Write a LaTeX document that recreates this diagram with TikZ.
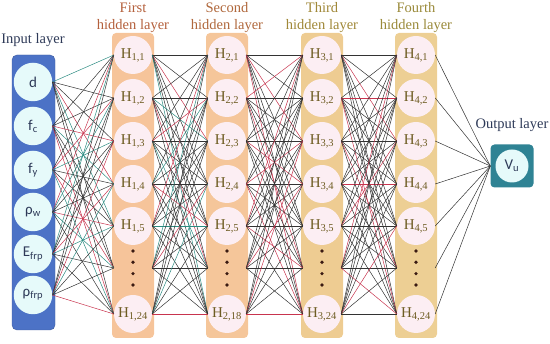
\documentclass[tikz,border=0pt]{standalone}
\usepackage{fontspec}
\setmainfont{Liberation Serif}
\newfontfamily\unitfont{Carlito}
\usepackage{tikz}
\usetikzlibrary{positioning, calc}
\usepackage{xcolor}

\definecolor{inblue}{HTML}{4C72C6}
\definecolor{incirc}{HTML}{E6FAFA}
\definecolor{intext}{HTML}{2E3A58}
\definecolor{outteal}{HTML}{2F8394}
\definecolor{hcirc}{HTML}{FCEEF3}
\definecolor{htext}{HTML}{6E5C22}
\definecolor{box1}{HTML}{F6C49A}
\definecolor{box2}{HTML}{F5C69A}
\definecolor{box3}{HTML}{EECC92}
\definecolor{box4}{HTML}{EDCF94}
\definecolor{tc1}{HTML}{B4603C}
\definecolor{tc2}{HTML}{B0683C}
\definecolor{tc3}{HTML}{A08838}
\definecolor{tc4}{HTML}{9A8A3A}
\definecolor{dotcol}{HTML}{3A1A12}
% link colours: lc with teal, lk red only
\definecolor{lc0}{HTML}{333333}
\definecolor{lc1}{HTML}{C8344E}
\definecolor{lc2}{HTML}{2C8C82}
\colorlet{lc3}{lc0}
\colorlet{lc4}{lc0}
\colorlet{lc5}{lc0}
\colorlet{lc6}{lc0}
\colorlet{lc7}{lc0}
\colorlet{lc8}{lc0}
\colorlet{lc9}{lc0}
\colorlet{lc10}{lc0}

\begin{document}
\begin{tikzpicture}[
        x=1pt, y=-1pt,
        inunit/.style={circle, fill=incirc, minimum size=38.5pt, inner sep=0pt,
          text=intext, font=\unitfont\fontsize{15}{16}\selectfont},
        hunit/.style={circle, fill=hcirc, minimum size=38pt, inner sep=0pt,
          text=htext, font=\fontsize{15}{16}\selectfont},
        dotsunit/.style={minimum size=38pt, inner sep=0pt},
        layerbox/.style={rounded corners=4pt, minimum width=42pt,
          minimum height=305pt, inner sep=0pt},
        heading/.style={align=center, font=\fontsize{14.5}{17}\selectfont},
        link/.style={line width=0.5pt}
      ]
      \useasboundingbox (0,0) rectangle (550,344);

      % input layer
      \node[heading, text=intext] (intitle) at (33,40) {Input layer};
      \node[rounded corners=5pt, fill=inblue, draw=inblue!80!black,
        minimum width=43pt, minimum height=275pt] (inbox) at (33.5,192.5) {};
      \node[inunit] (in1) at (33,82)  {d};
      \node[inunit] (in2) at (33,126) {f\textsubscript{c}};
      \node[inunit] (in3) at (33,170) {f\textsubscript{y}};
      \node[inunit] (in4) at (33,212) {ρ\textsubscript{w}};
      \node[inunit] (in5) at (33,254) {E\textsubscript{frp}};
      \node[inunit] (in6) at (33,295) {ρ\textsubscript{frp}};

      % hidden layers
      \foreach \l/\x/\n/\name in {1/133/24/First, 2/227/18/Second,
                                  3/322/24/Third, 4/416/24/Fourth} {
        \node[heading, text=tc\l] (title\l) at (\x,17.5) {\name\\hidden layer};
        \node[layerbox, fill=box\l] (box\l) at (\x,185.5) {};
        \foreach \k/\y in {1/55, 2/98, 3/141, 4/184, 5/226}
          \node[hunit] (h\l-\k) at (\x,\y) {H\textsubscript{\l,\k}};
        \node[dotsunit] (h\l-6) at (\x,268) {};
        \foreach \d in {-17,-5.7,5.7,17}
          \fill[dotcol] ($(h\l-6)+(0,\d)$) circle (1.8pt);
        \node[hunit] (h\l-7) at (\x,314) {H\textsubscript{\l,\n}};
      }

      % output layer
      \node[heading, text=intext] (outtitle) at (512,125) {Output layer};
      \node[rounded corners=4pt, fill=outteal, minimum size=43pt,
        inner sep=0pt] (outbox) at (512,166) {};
      \node[inunit, minimum size=33pt] (out) at (512,166) {V\textsubscript{u}};

      % connections
      \foreach \i in {1,...,6}
        \foreach \k in {1,...,7} {
          \pgfmathtruncatemacro\c{mod(\i+\k,4)}
          \draw[link, draw=lc\c] (in\i.east) -- (h1-\k.west);
        }
      \foreach \a/\b/\m/\s in {1/2/7/1, 2/3/9/3, 3/4/11/3}
        \foreach \i in {1,...,7}
          \foreach \k in {1,...,7} {
            \pgfmathtruncatemacro\c{mod(\i*\s+2*\k+\a,\m)}
            \ifnum\c=2 \ifnum\a>1 \def\c{1}\fi\fi
            \draw[link, draw=lc\c] (h\a-\i.east) -- (h\b-\k.west);
          }
      \foreach \i in {1,...,7}
        \draw[link, draw=lc0] (h4-\i.east) -- (outbox.west);
    \end{tikzpicture}
\end{document}
